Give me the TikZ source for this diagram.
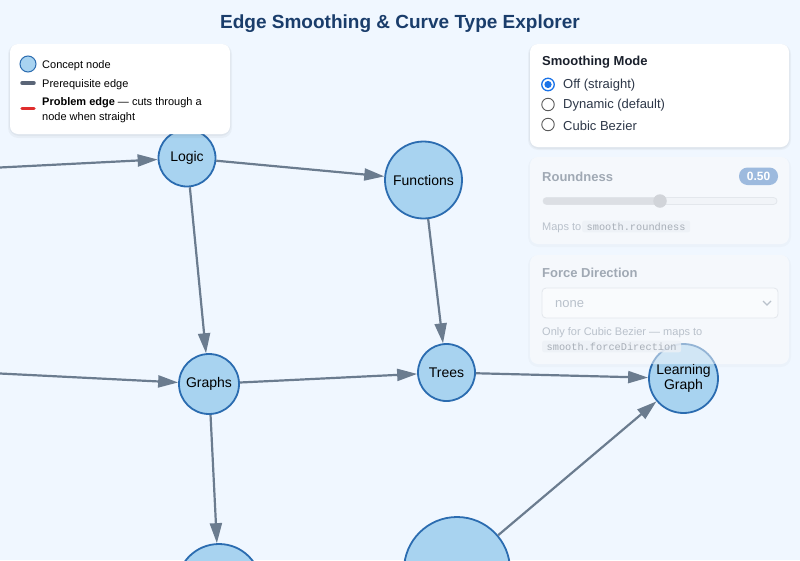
\documentclass[tikz,border=0pt]{standalone}
\usepackage{fontspec}
\setmainfont{Liberation Sans}
\setmonofont{Liberation Mono}
\usetikzlibrary{arrows.meta}
\definecolor{bg}{HTML}{F0F7FF}
\definecolor{titlec}{HTML}{1A3D6B}
\definecolor{nodefill}{HTML}{A8D3F0}
\definecolor{nodeline}{HTML}{2B6CB0}
\definecolor{edgec}{HTML}{6B7C8F}
\definecolor{darktext}{HTML}{1A202C}
\definecolor{optext}{HTML}{2D3748}
\definecolor{radioblue}{HTML}{1A73E8}
\definecolor{fadehead}{HTML}{A0A9B4}
\definecolor{fadetext}{HTML}{B9C1CB}
\definecolor{codebg}{HTML}{EDF1F6}
\definecolor{badge}{HTML}{9DBADE}
\definecolor{trackdark}{HTML}{DCDFE4}
\definecolor{tracklight}{HTML}{F1F4F8}
\definecolor{trackline}{HTML}{E3E7EC}
\definecolor{legendgray}{HTML}{5A6577}
\definecolor{legendred}{HTML}{E02D2D}
\begin{document}
\begin{tikzpicture}[x=1pt,y=-1pt,
  concept/.style={circle, draw=nodeline, line width=1.8pt, fill=nodefill, inner sep=0pt, align=center, font=\fontsize{14}{15}\selectfont},
  prereq/.style={draw=edgec, line width=2.2pt, -{Triangle[length=20pt,width=12pt]}},
  panel/.style={fill=white, rounded corners=8pt},
  fadepanel/.style={fill=white, fill opacity=0.5, rounded corners=8pt},
  shadow/.style={fill=black, opacity=0.035, rounded corners=10pt},
  legtext/.style={anchor=west, inner sep=0pt, font=\fontsize{11}{15}\selectfont, text=black, align=left},
  optlabel/.style={anchor=west, inner sep=0pt, font=\fontsize{13}{15}\selectfont, text=optext},
  radio/.style={circle, draw=black!65, line width=0.9pt, fill=white, minimum size=12.5pt, inner sep=0pt},
  fadehd/.style={anchor=west, inner sep=0pt, font=\fontsize{13}{15}\selectfont\bfseries, text=fadehead},
  fadesmall/.style={anchor=west, inner sep=0pt, font=\fontsize{11}{13}\selectfont, text=fadetext},
  codebox/.style={anchor=west, fill=codebg, fill opacity=0.8, text opacity=1, rounded corners=2pt, inner xsep=4.5pt, inner ysep=2pt, font=\fontsize{10.3}{12}\ttfamily, text=fadetext!90!black}
]
\useasboundingbox (0,0) rectangle (800,560);
\clip (0,0) rectangle (800,560);
\fill[bg] (0,0) rectangle (800,560);

% title
\node[font=\fontsize{19}{22}\selectfont\bfseries, text=titlec] (title) at (400,23.5) {Edge Smoothing \& Curve Type Explorer};

% concept nodes
\node[concept, minimum size=57pt] (logic) at (187,158) {Logic};
\node[concept, minimum size=77pt] (func) at (423.5,180) {Functions};
\node[concept, minimum size=60pt] (graphs) at (209,384) {Graphs};
\node[concept, minimum size=57pt] (trees) at (446.5,372.5) {Trees};
\node[concept, minimum size=69pt] (lg) at (683.5,378.5) {Learning\\Graph};
\node[concept, minimum size=84pt] (bl) at (219,586) {};
\node[concept, minimum size=106pt] (big) at (457,570) {};
\coordinate (offL) at (-20,168.5);
\coordinate (offG) at (-20,372.5);

% prerequisite edges
\draw[prereq] (offL) -- (logic);
\draw[prereq] (logic) -- (func);
\draw[prereq] (logic) -- (graphs);
\draw[prereq] (func) -- (trees);
\draw[prereq] (offG) -- (graphs);
\draw[prereq] (graphs) -- (trees);
\draw[prereq] (trees) -- (lg);
\draw[prereq] (graphs) -- (bl);
\draw[prereq] (big) -- (lg);

% legend
\fill[shadow] (8,44) rectangle (232,138);
\fill[shadow] (9,44) rectangle (231,136);
\fill[panel] (10,44) rectangle (230,134);
\node[circle, draw=nodeline, fill=nodefill, line width=1pt, minimum size=16pt, inner sep=0pt] (legc) at (28,64) {};
\node[legtext] (legt1) at (42,65.5) {Concept node};
\draw[legendgray, line width=3.5pt, line cap=round] (22,83) -- (34,83);
\node[legtext] (legt2) at (42,84.5) {Prerequisite edge};
\draw[legendred, line width=3.5pt, line cap=round] (22,108.7) -- (34,108.7);
\node[legtext] (legt3) at (42,110) {\textbf{Problem edge} — cuts through a\\node when straight};

% panel 1: smoothing mode
\fill[shadow] (528,44) rectangle (791,150);
\fill[shadow] (529,44) rectangle (790,149);
\fill[panel] (530,44) rectangle (789,147);
\node[anchor=west, inner sep=0pt, font=\fontsize{13}{15}\selectfont\bfseries, text=darktext] (smhead) at (542,62.5) {Smoothing Mode};
\node[radio, draw=radioblue, line width=1.3pt] (r1) at (548,84.5) {};
\fill[radioblue] (r1.center) circle (3.6pt);
\node[radio] (r2) at (548,104.5) {};
\node[radio] (r3) at (548,124.5) {};
\node[optlabel] (o1) at (563,85.5) {Off (straight)};
\node[optlabel] (o2) at (563,105.5) {Dynamic (default)};
\node[optlabel] (o3) at (563,125.5) {Cubic Bezier};

% panel 2: roundness (faded)
\fill[shadow, opacity=0.02] (528,157) rectangle (791,247);
\fill[fadepanel] (530,157) rectangle (789,244);
\node[fadehd] (rhead) at (542,177) {Roundness};
\fill[badge, rounded corners=8.5pt] (739,167.5) rectangle (778,185);
\node[font=\fontsize{12}{14}\selectfont\bfseries, text=white] (badgetxt) at (758.5,176.5) {0.50};
\draw[trackline, fill=tracklight, rounded corners=3.5pt, line width=0.8pt] (543,197.5) rectangle (777,204.5);
\fill[trackdark, rounded corners=3.5pt] (543,197.5) rectangle (662,204.5);
\node[circle, fill=trackdark!95!black, minimum size=13.5pt, inner sep=0pt] (thumb) at (660,201) {};
\node[fadesmall] (maps1) at (542,227.5) {Maps to};
\node[codebox] (code1) at (582,226.5) {smooth.roundness};

% panel 3: force direction (faded)
\fill[shadow, opacity=0.02] (528,255) rectangle (791,367);
\fill[fadepanel] (530,255) rectangle (789,364);
\node[fadehd] (fhead) at (542,273) {Force Direction};
\draw[draw=trackline, fill=white, fill opacity=0.45, rounded corners=4pt, line width=0.8pt] (542,288) rectangle (778,318);
\node[anchor=west, inner sep=0pt, font=\fontsize{13}{15}\selectfont, text=fadetext] (none) at (555,304) {none};
\draw[fadetext, line width=1.3pt] (763,301) -- (767,305) -- (771,301);
\node[fadesmall] (only) at (542,333) {Only for Cubic Bezier — maps to};
\node[codebox, inner xsep=4.5pt] (code2) at (542,346.5) {smooth.forceDirection};
\end{tikzpicture}
\end{document}
